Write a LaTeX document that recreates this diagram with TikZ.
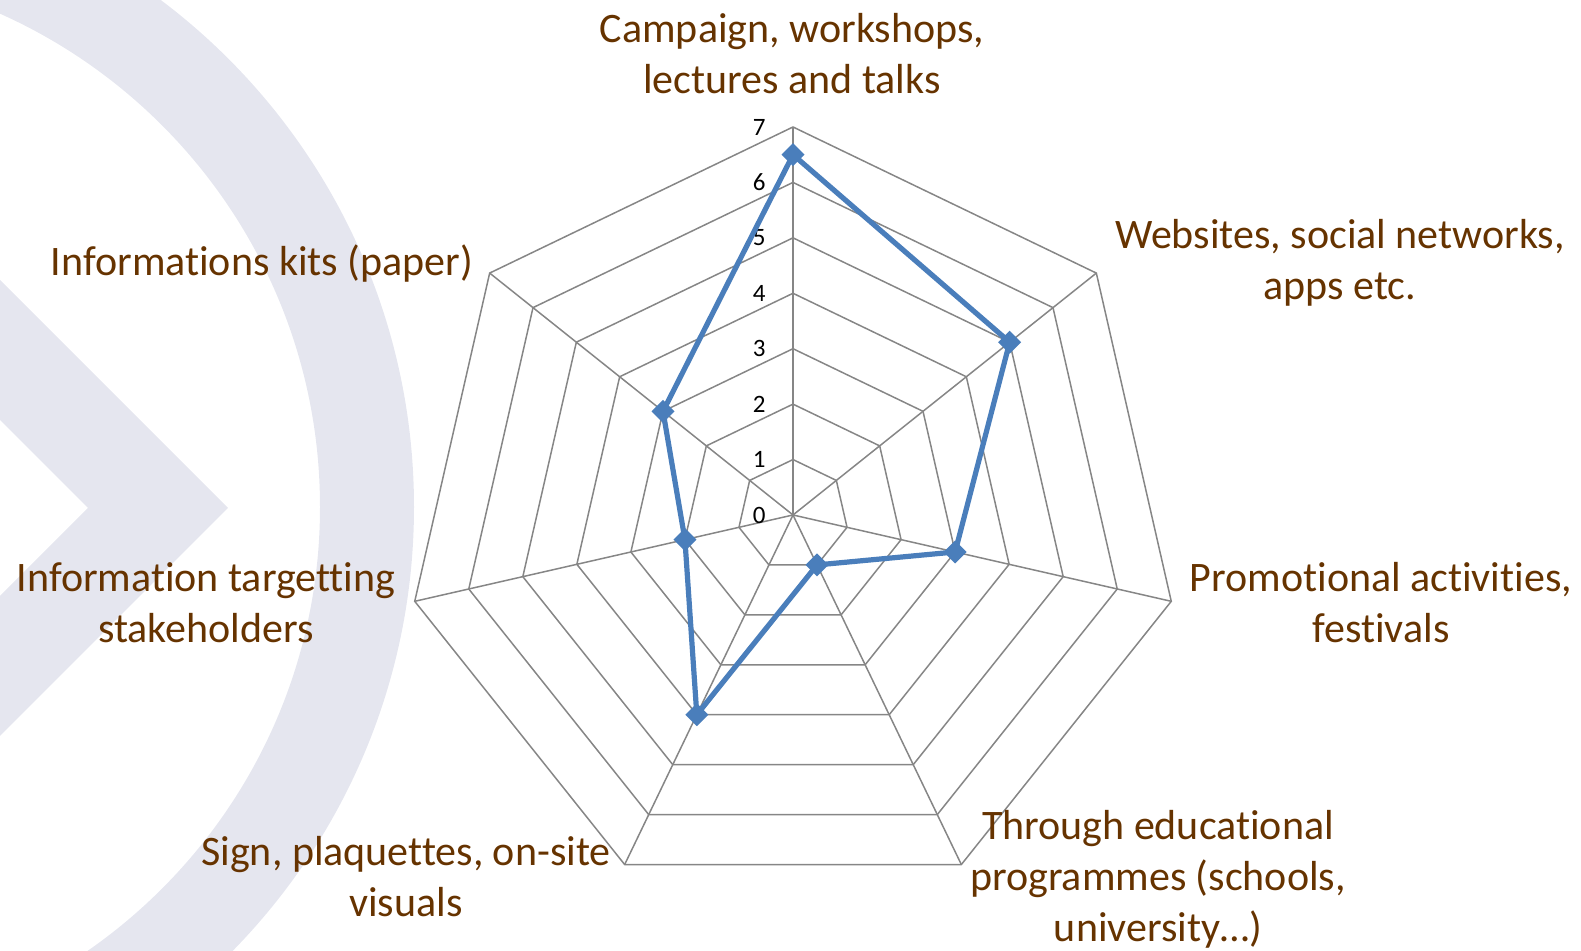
\documentclass[tikz,border=0pt]{standalone}
\usepackage{fontspec}
\setmainfont{Carlito}[Ligatures=CommonOff]
\usepackage{xcolor}

\definecolor{labelbrown}{RGB}{102,51,0}
\definecolor{gridgray}{RGB}{134,134,134}
\definecolor{serieblue}{RGB}{74,126,187}
\definecolor{logogray}{RGB}{229,230,239}

\begin{document}
\begin{tikzpicture}[x=0.5pt,y=0.5pt,
  grid/.style={draw=gridgray,line width=0.75pt},
  serie/.style={draw=serieblue,line width=2.6pt,line join=round},
  lab/.style={text=labelbrown,font=\fontsize{21}{25.5}\selectfont,align=center,anchor=base,inner sep=0pt},
  tick/.style={font=\fontsize{12.5}{15}\selectfont,anchor=east,inner sep=0pt}]

\useasboundingbox (0,0) rectangle (1581,951);

% logo in the background
\begin{scope}
\clip (0,0) rectangle (1581,951);
\fill[logogray,even odd rule] (-220,444) circle (634) (-220,444) circle (540);
\fill[logogray] (-30,701) -- (228,443) -- (-30,185) -- (-30,325) -- (88,443) -- (-30,561) -- cycle;
\end{scope}

\begin{scope}[shift={(793,436)}]

\foreach \i in {0,1,...,6}
{
\coordinate (v\i) at ({90-\i*360/7}:388);
}

% rings and spokes
\foreach \r in {1,...,7}
{
\draw[grid] (90:{\r*388/7}) \foreach \i in {1,...,6}{ -- ({90-\i*360/7}:{\r*388/7})} -- cycle;
}
\foreach \i in {1,...,6}
{
\draw[grid] (0,0) -- (v\i);
}
\draw[grid,line width=1pt] (0,0) -- (v0);

\foreach \k in {0,...,7}
{
\node[tick] (t\k) at (-27,{\k*388/7}) {\k};
}

% data
\foreach \v [count=\i from 0] in {6.5,5,3,1,4,2,3}
{
\coordinate (d\i) at ({90-\i*360/7}:{\v*388/7});
}
\draw[serie] (d0)--(d1)--(d2)--(d3)--(d4)--(d5)--(d6)--cycle;
\foreach \i in {0,...,6}
{
\fill[serieblue] (d\i) +(0,11.5) -- +(11.5,0) -- +(0,-11.5) -- +(-11.5,0) -- cycle;
}
\end{scope}

% axis labels (base = last line)
\node[lab] (lcamp) at (792,857) {Campaign, workshops,\\lectures and talks};
\node[lab] (lweb) at (1340,651) {Websites, social networks,\\apps etc.};
\node[lab] (lpromo) at (1381,308) {Promotional activities,\\festivals};
\node[lab] (ledu) at (1158,9) {Through educational\\programmes (schools,\\university…)};
\node[lab] (lsign) at (406,34) {Sign, plaquettes, on-site\\visuals};
\node[lab] (lstake) at (206,308) {Information targetting\\stakeholders};
\node[lab] (lkits) at (262,675) {Informations kits (paper)};
\end{tikzpicture}
\end{document}
